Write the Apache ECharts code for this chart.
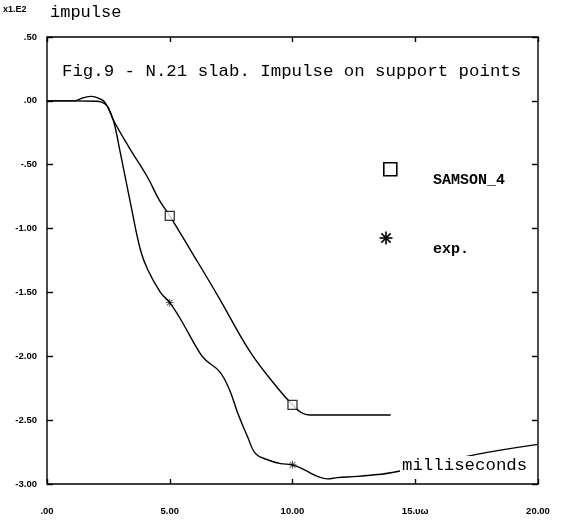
<!DOCTYPE html>
<html>
<head>
<meta charset="utf-8">
<script src="https://cdn.jsdelivr.net/npm/echarts@6/dist/echarts.min.js"></script>
<style>
  html, body { margin: 0; padding: 0; background: #fff; }
  #main { width: 562px; height: 523px; }
</style>
</head>
<body>
<div id="main"></div>
<script>
// SAMSON_4 calculation
const samsonX = [0, 1.0, 2.0, 2.2, 2.45, 2.7, 3.36, 4.1, 4.58, 5.0, 5.85, 7.0, 8.29, 9.4, 10.0, 10.35, 10.7, 11.2, 14.0];
const samsonY = [0, 0, -0.003, -0.008, -0.04, -0.15, -0.37, -0.60, -0.78, -0.90, -1.17, -1.54, -1.97, -2.25, -2.38, -2.44, -2.46, -2.46, -2.46];
// experiment
const expX = [0, 1.1, 1.5, 1.8, 2.1, 2.3, 2.45, 2.7, 2.99, 3.4, 3.81, 4.1, 4.62, 5.0, 5.44, 6.21, 6.46, 7.03, 7.43, 7.76, 8.17, 8.49, 8.98, 9.51, 10.0, 10.49, 11.02, 11.43, 11.83, 12.65, 14.07, 17.45, 20.0];
const expY = [0, 0, 0.025, 0.035, 0.02, 0, -0.04, -0.15, -0.41, -0.80, -1.17, -1.32, -1.50, -1.58, -1.71, -1.97, -2.03, -2.12, -2.26, -2.44, -2.63, -2.76, -2.81, -2.84, -2.85, -2.89, -2.94, -2.96, -2.95, -2.94, -2.91, -2.77, -2.69];
// marked points
const samsonMarkX = [5, 10];
const samsonMarkY = [-0.90, -2.38];
const expMarkX = [5, 10];
const expMarkY = [-1.58, -2.85];
// axes
const xTicks = [0, 5, 10, 15, 20];
const xTickLabels = ['.00', '5.00', '10.00', '15.\u03c5\u03c9', '20.00'];
const yTicks = [0.5, 0, -0.5, -1, -1.5, -2, -2.5, -3];
const yTickLabels = ['.50', '.00', '-.50', '-1.00', '-1.50', '-2.00', '-2.50', '-3.00'];

const zip = (xs, ys) => xs.map((x, i) => [x, ys[i]]);
const star = 'path://M-1,-10 L1,-10 L1,10 L-1,10 Z M-10,-1 L10,-1 L10,1 L-10,1 Z ' +
  'M-6.36,-7.78 L7.78,6.36 L6.36,7.78 L-7.78,-6.36 Z M-7.78,6.36 L6.36,-7.78 L7.78,-6.36 L-6.36,7.78 Z';

const tickFont = { fontFamily: 'Liberation Sans', fontWeight: 'bold', fontSize: 9.5, color: '#000' };
const line = { color: '#000', width: 1.4 };

function xLabel(v) {
  const i = xTicks.indexOf(v);
  return i >= 0 ? xTickLabels[i] : '';
}
function yLabel(v) {
  const i = yTicks.findIndex(t => Math.abs(t - v) < 1e-6);
  return i >= 0 ? yTickLabels[i] : '';
}

// legend asterisk made of four strokes
function starLines(cx, cy, r) {
  const d = r * 0.707;
  const segs = [[-r, 0, r, 0], [0, -r, 0, r], [-d, -d, d, d], [-d, d, d, -d]];
  return segs.map(s => ({
    type: 'line', z: 10,
    shape: { x1: cx + s[0], y1: cy + s[1], x2: cx + s[2], y2: cy + s[3] },
    style: { stroke: '#000', lineWidth: 1.6 }
  }));
}

function axisBase(pos, len) {
  return {
    type: 'value', position: pos,
    axisLine: { show: false, onZero: false }, splitLine: { show: false },
    axisTick: { inside: true, length: len, lineStyle: line }
  };
}

const chart = echarts.init(document.getElementById('main'));
chart.setOption({
  animation: false,
  backgroundColor: '#fff',
  grid: { left: 47, right: 24, top: 37, bottom: 39, show: true, borderColor: '#000', borderWidth: 1.4 },
  xAxis: [
    Object.assign(axisBase('bottom', 5), { min: 0, max: 20, interval: 5,
      axisLabel: Object.assign({ margin: 22, formatter: xLabel }, tickFont) }),
    Object.assign(axisBase('top', 5), { min: 0, max: 20, interval: 5, axisLabel: { show: false } })
  ],
  yAxis: [
    Object.assign(axisBase('left', 6), { min: -3, max: 0.5, interval: 0.5,
      axisLabel: Object.assign({ margin: 10, formatter: yLabel }, tickFont) }),
    Object.assign(axisBase('right', 6), { min: -3, max: 0.5, interval: 0.5, axisLabel: { show: false } })
  ],
  series: [
    { name: 'SAMSON_4', type: 'line', data: zip(samsonX, samsonY), smooth: 0.4,
      showSymbol: false, lineStyle: line, z: 2 },
    { name: 'exp.', type: 'line', data: zip(expX, expY), smooth: 0.4,
      showSymbol: false, lineStyle: line, z: 2 },
    { type: 'scatter', data: zip(samsonMarkX, samsonMarkY), symbol: 'rect', symbolSize: 9,
      itemStyle: { color: '#fff', borderColor: '#000', borderWidth: 1.3 }, z: 3 },
    { type: 'scatter', data: zip(expMarkX, expMarkY), symbol: star, symbolSize: 8,
      itemStyle: { color: '#000' }, z: 3 }
  ],
  graphic: [
    { type: 'text', left: 3, top: 5, style: { text: 'x1.E2', font: 'bold 9px "Liberation Sans"', fill: '#000' } },
    { type: 'text', left: 50, top: 4, style: { text: 'impulse', font: '17px "Liberation Mono"', fill: '#000' } },
    { type: 'text', left: 62, top: 63, z: 10,
      style: { text: 'Fig.9 - N.21 slab. Impulse on support points', font: '17.4px "Liberation Mono"', fill: '#000' } },
    { type: 'rect', left: 383, top: 162, z: 10,
      shape: { width: 13, height: 13 }, style: { fill: '#fff', stroke: '#000', lineWidth: 1.6 } },
    { type: 'text', left: 433, top: 173, z: 10,
      style: { text: 'SAMSON_4', font: 'bold 15px "Liberation Mono"', fill: '#000' } },
    { type: 'text', left: 433, top: 242, z: 10,
      style: { text: 'exp.', font: 'bold 15px "Liberation Mono"', fill: '#000' } },
    { type: 'text', left: 400, top: 456, z: 10,
      style: { text: 'milliseconds', font: '17.4px "Liberation Mono"', fill: '#000',
               backgroundColor: '#fff', padding: [1, 2, 1, 2] } }
  ].concat(starLines(386, 238, 6.5))
});
</script>
</body>
</html>
